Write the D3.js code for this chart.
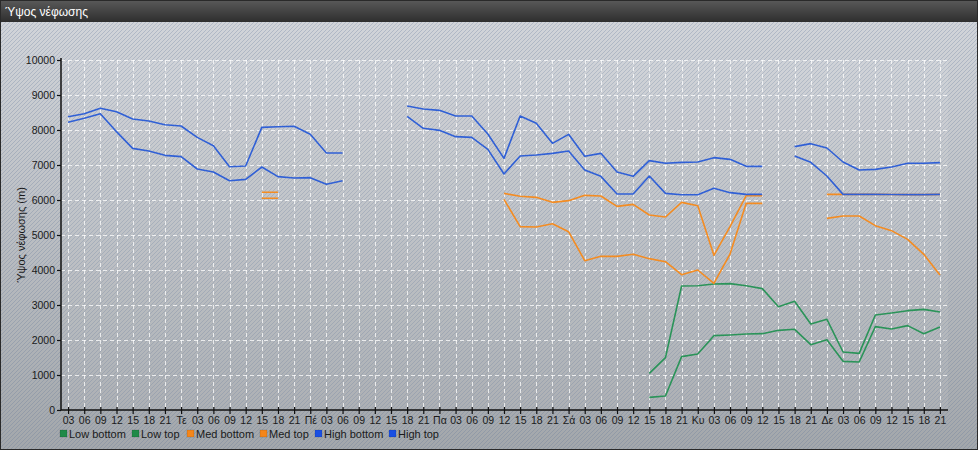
<!DOCTYPE html>
<html><head><meta charset="utf-8">
<script src="https://cdn.jsdelivr.net/npm/d3@7/dist/d3.min.js"></script>
<style>html,body{margin:0;padding:0;background:#fff;}svg{display:block;font-family:"Liberation Sans",Arial,sans-serif;}</style>
</head><body>
<script>
const title = "Ύψος νέφωσης";
const yTitle = "Ύψος νέφωσης (m)";
const dayNames = ["Τε","Πέ","Πα","Σά","Κυ","Δε"];
const hours = ["03","06","09","12","15","18","21"];
const tickLabels = hours.concat(...dayNames.map(d => [d].concat(hours)));
const yTicks = [0,1000,2000,3000,4000,5000,6000,7000,8000,9000,10000];
const N = null;
const lowBottom = [N,N,N,N,N,N,N,N,N,N,N,N,N,N,N,N,N,N,N,N,N,N,N,N,N,N,N,N,N,N,N,N,N,N,N,N,
  362,400,1524,1600,2124,2143,2171,2181,2276,2305,1867,2010,1390,1371,2381,2314,2410,2181,2371];
const lowTop = [N,N,N,N,N,N,N,N,N,N,N,N,N,N,N,N,N,N,N,N,N,N,N,N,N,N,N,N,N,N,N,N,N,N,N,N,
  1048,1495,3543,3552,3600,3610,3552,3467,2952,3105,2457,2590,1657,1619,2714,2771,2838,2876,2800];
const medBottom = [N,N,N,N,N,N,N,N,N,N,N,N,6050,6050,N,N,N,N,N,N,N,N,N,N,N,N,N,
  6019,5238,5229,5324,5095,4267,4390,4390,4448,4324,4238,3867,4000,3619,4457,5905,5905,N,N,N,
  5476,5543,5543,5267,5124,4876,4448,3857];
const medTop = [N,N,N,N,N,N,N,N,N,N,N,N,6220,6220,N,N,N,N,N,N,N,N,N,N,N,N,N,
  6190,6105,6076,5933,5981,6133,6114,5819,5876,5571,5514,5933,5838,4419,5238,6124,6124,N,N,N,
  6160,6160,6160,6160,6155,6155,6155,6160];
const highBottom = [8220,8333,8466,7952,7476,7400,7276,7238,6886,6800,6552,6590,6943,6667,6629,6638,6448,6552,N,N,N,
  8390,8048,7990,7810,7790,7448,6743,7257,7286,7333,7400,6857,6676,6171,6171,6686,6190,6152,6152,6333,6210,6162,6162,N,
  7257,7076,6686,6160,6160,6160,6155,6155,6155,6160];
const highTop = [8380,8466,8619,8523,8314,8257,8152,8114,7790,7552,6952,6971,8076,8095,8105,7876,7343,7343,N,N,N,
  8686,8600,8562,8400,8400,7886,7190,8400,8190,7619,7876,7248,7333,6800,6676,7124,7048,7076,7086,7210,7162,6962,6962,N,
  7524,7610,7486,7086,6857,6876,6943,7048,7048,7067];
const seriesNames = ["Low bottom","Low top","Med bottom","Med top","High bottom","High top"];
const seriesValues = [lowBottom, lowTop, medBottom, medTop, highBottom, highTop];
const lineColors = ["#2b9459","#2b9459","#f48c22","#f48c22","#3060d6","#3060d6"];
const swatchColors = ["#1f8a48","#1f8a48","#f5861a","#f5861a","#1a4fe3","#1a4fe3"];

(function(){
const W = 978, H = 450;
const svg = d3.select("body").append("svg").attr("width", W).attr("height", H);
const defs = svg.append("defs");
const tg = defs.append("linearGradient").attr("id","tbar").attr("x1",0).attr("y1",0).attr("x2",0).attr("y2",1);
tg.append("stop").attr("offset","0%").attr("stop-color","#5a5a5a");
tg.append("stop").attr("offset","100%").attr("stop-color","#2e2e2e");
const bg = defs.append("linearGradient").attr("id","bodyg").attr("x1",0).attr("y1",0).attr("x2",0).attr("y2",1);
bg.append("stop").attr("offset","0%").attr("stop-color","#d1d4d9");
bg.append("stop").attr("offset","100%").attr("stop-color","#a3a7ab");
const pat = defs.append("pattern").attr("id","stripes").attr("patternUnits","userSpaceOnUse").attr("width",4).attr("height",4);
pat.append("path").attr("d","M-1,1 L1,-1 M0,4 L4,0 M3,5 L5,3").attr("stroke","rgba(95,115,150,0.28)").attr("stroke-width",1);

svg.append("rect").attr("x",0).attr("y",22).attr("width",W).attr("height",H-22).attr("fill","url(#bodyg)");
svg.append("rect").attr("x",0).attr("y",22).attr("width",W).attr("height",H-22).attr("fill","url(#stripes)");
svg.append("rect").attr("x",0).attr("y",0).attr("width",W).attr("height",22).attr("fill","url(#tbar)");
svg.append("text").attr("x",5).attr("y",16).attr("fill","#fff").attr("font-size",12).text(title);
svg.append("rect").attr("x",0.5).attr("y",0.5).attr("width",W-1).attr("height",H-1).attr("fill","none").attr("stroke","#2a2a2a");

const pL = 61, pR = 948, pT = 60, pB = 410;
const x = d3.scalePoint().domain(d3.range(tickLabels.length)).range([60, pR]).padding(0.5);
const y = d3.scaleLinear().domain([0,10000]).range([pB, pT]);

svg.append("rect").attr("x",pL).attr("y",pT).attr("width",pR-pL).attr("height",pB-pT).attr("fill","rgba(255,255,255,0.07)");

const grid = svg.append("g").attr("stroke","rgba(255,255,255,0.75)").attr("stroke-dasharray","4,3").attr("stroke-width",1);
grid.selectAll("line.v").data(d3.range(tickLabels.length)).join("line").attr("class","v")
  .attr("x1", d => Math.round(x(d))+0.5).attr("x2", d => Math.round(x(d))+0.5)
  .attr("y1", pT).attr("y2", pB);
grid.selectAll("line.h").data(yTicks.filter(t => t > 0)).join("line").attr("class","h")
  .attr("x1", pL).attr("x2", pR)
  .attr("y1", d => Math.round(y(d))+0.5).attr("y2", d => Math.round(y(d))+0.5);

const line = d3.line().defined(d => d.v != null).x(d => x(d.i)).y(d => y(d.v));
seriesValues.forEach((vals, k) => {
  svg.append("path").datum(vals.map((v,i) => ({i, v})))
    .attr("d", line).attr("fill","none").attr("stroke", lineColors[k]).attr("stroke-width",1.6)
    .attr("stroke-linejoin","round");
});

const yAxis = svg.append("g").attr("transform",`translate(${pL},0)`)
  .call(d3.axisLeft(y).tickValues(yTicks).tickFormat(d3.format("d")).tickSizeOuter(0).tickSize(4).tickPadding(2));
const xAxis = svg.append("g").attr("transform",`translate(0,${pB})`)
  .call(d3.axisBottom(x).tickFormat(i => tickLabels[i]).tickSizeOuter(0).tickSize(4).tickPadding(3));
[yAxis, xAxis].forEach(a => {
  a.select(".domain").attr("stroke","#111").attr("stroke-width",1.5);
  a.selectAll(".tick line").attr("stroke","#111").attr("stroke-width",1.2);
  a.selectAll("text").attr("fill","#1a1a1a").attr("font-size",10.5).attr("font-family","Liberation Sans, Arial, sans-serif");
});
xAxis.selectAll(".tick line").attr("y1",-3);
yAxis.select(".domain").attr("d",`M0,${pT-2}V${pB}`);
xAxis.select(".domain").attr("d",`M${pL},0H${pR}`);

svg.append("text").attr("transform",`translate(25,${(pT+pB)/2}) rotate(-90)`)
  .attr("text-anchor","middle").attr("font-size",11).attr("fill","#1a1a1a").text(yTitle);

const legendX = [60,132,187,260,315,389];
const lg = svg.append("g");
seriesNames.forEach((n,k) => {
  lg.append("rect").attr("x",legendX[k]).attr("y",430).attr("width",7).attr("height",7)
    .attr("fill",swatchColors[k]).attr("stroke","rgba(0,0,0,0.25)").attr("stroke-width",0.5);
  lg.append("text").attr("x",legendX[k]+9).attr("y",438).attr("font-size",11).attr("fill","#1a1a1a").text(n);
});
})();
</script>
</body></html>
